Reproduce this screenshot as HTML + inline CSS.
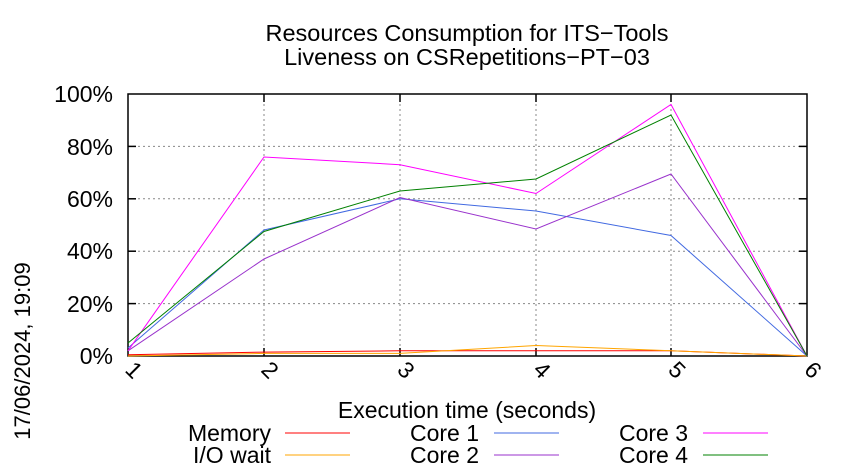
<!DOCTYPE html>
<html><head><style>body{margin:0;background:#fff}svg{display:block}text{font-family:"Liberation Sans",sans-serif;fill:#000}</style></head><body>
<svg width="850" height="475" xmlns="http://www.w3.org/2000/svg">
<text x="467" y="41" font-size="23.5" text-anchor="middle">Resources Consumption for ITS−Tools</text>
<text x="467" y="65" font-size="23.5" text-anchor="middle">Liveness on CSRepetitions−PT−03</text>
<g stroke="#888" stroke-dasharray="2,3" stroke-width="1">
<line x1="128" y1="303.6" x2="807" y2="303.6"/><line x1="128" y1="251.2" x2="807" y2="251.2"/><line x1="128" y1="198.8" x2="807" y2="198.8"/><line x1="128" y1="146.4" x2="807" y2="146.4"/><line x1="128" y1="94" x2="807" y2="94"/>
<line x1="264" y1="94" x2="264" y2="356"/><line x1="400" y1="94" x2="400" y2="356"/><line x1="536" y1="94" x2="536" y2="356"/><line x1="671" y1="94" x2="671" y2="356"/>
</g>
<rect x="128" y="94" width="679" height="262" fill="none" stroke="#000" stroke-width="1.5"/>
<g stroke="#000" stroke-width="1.5">
<line x1="128" y1="303.6" x2="136" y2="303.6"/><line x1="128" y1="251.2" x2="136" y2="251.2"/><line x1="128" y1="198.8" x2="136" y2="198.8"/><line x1="128" y1="146.4" x2="136" y2="146.4"/>
<line x1="807" y1="303.6" x2="799" y2="303.6"/><line x1="807" y1="251.2" x2="799" y2="251.2"/><line x1="807" y1="198.8" x2="799" y2="198.8"/><line x1="807" y1="146.4" x2="799" y2="146.4"/>
<line x1="264" y1="356" x2="264" y2="348"/><line x1="400" y1="356" x2="400" y2="348"/><line x1="536" y1="356" x2="536" y2="348"/><line x1="671" y1="356" x2="671" y2="348"/>
<line x1="264" y1="94" x2="264" y2="102"/><line x1="400" y1="94" x2="400" y2="102"/><line x1="536" y1="94" x2="536" y2="102"/><line x1="671" y1="94" x2="671" y2="102"/>
</g>
<g font-size="23" text-anchor="end">
<text x="113" y="364">0%</text><text x="113" y="312">20%</text><text x="113" y="259">40%</text><text x="113" y="207">60%</text><text x="113" y="155">80%</text><text x="113" y="102">100%</text>
</g>
<g font-size="23">
<text transform="translate(124,371) rotate(45)">1</text>
<text transform="translate(260,371) rotate(45)">2</text>
<text transform="translate(396,371) rotate(45)">3</text>
<text transform="translate(532,371) rotate(45)">4</text>
<text transform="translate(667,371) rotate(45)">5</text>
<text transform="translate(803,371) rotate(45)">6</text>
</g>
<text x="467" y="418" font-size="23" text-anchor="middle">Execution time (seconds)</text>
<text transform="translate(30,351) rotate(-90)" font-size="22" text-anchor="middle">17/06/2024, 19:09</text>
<g fill="none" stroke-width="1">
<polyline stroke="#ff0000" points="128,354.7 264,352.1 400,350.8 536,350.8 671,350.8 807,356"/>
<polyline stroke="#ffa500" points="128,356 264,353.4 400,353.4 536,345.5 671,350.8 807,356"/>
<polyline stroke="#4169e1" points="128,348 264,230 400,198.8 536,211 671,235.5 807,356"/>
<polyline stroke="#9932cc" points="128,350.8 264,259 400,197.5 536,229 671,174 807,356"/>
<polyline stroke="#ff00ff" points="128,350.8 264,157 400,164.7 536,193.5 671,104.5 807,356"/>
<polyline stroke="#008000" points="128,343 264,231.5 400,191 536,179 671,115 807,356"/>
</g>
<g font-size="23" text-anchor="end">
<text x="271" y="441">Memory</text><text x="271" y="463">I/O wait</text>
<text x="479" y="441">Core 1</text><text x="479" y="463">Core 2</text>
<text x="688" y="441">Core 3</text><text x="688" y="463">Core 4</text>
</g>
<g stroke-width="1">
<line x1="285" y1="433" x2="350" y2="433" stroke="#ff0000"/><line x1="285" y1="455" x2="350" y2="455" stroke="#ffa500"/>
<line x1="494" y1="433" x2="559" y2="433" stroke="#4169e1"/><line x1="494" y1="455" x2="559" y2="455" stroke="#9932cc"/>
<line x1="703" y1="433" x2="768" y2="433" stroke="#ff00ff"/><line x1="703" y1="455" x2="768" y2="455" stroke="#008000"/>
</g>
</svg>
</body></html>
